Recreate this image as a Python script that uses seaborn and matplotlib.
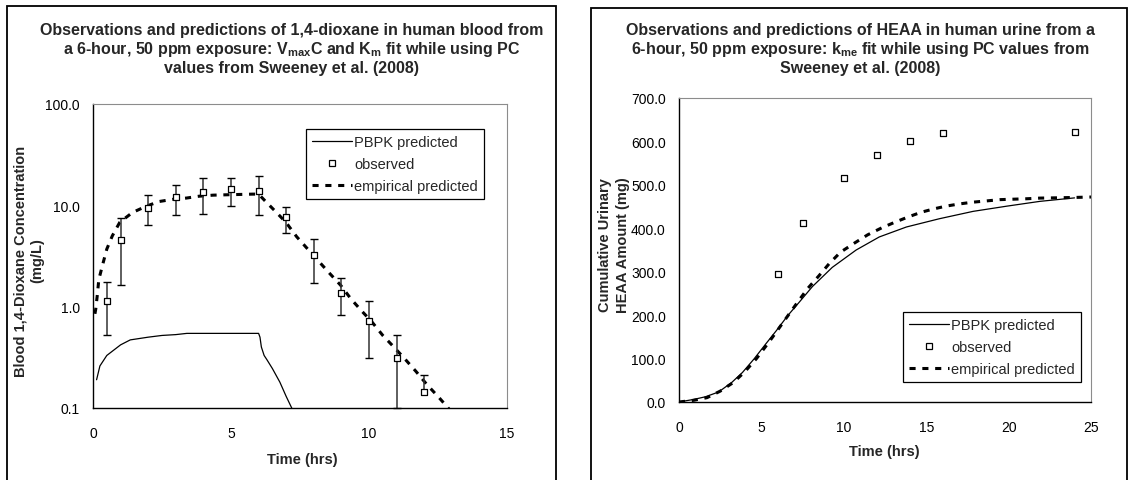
import matplotlib
matplotlib.use("Agg")
import matplotlib.pyplot as plt
import seaborn as sns
import pandas as pd
from matplotlib.patches import Rectangle
from matplotlib.lines import Line2D
from matplotlib.ticker import FixedLocator, FuncFormatter, NullLocator

# ---------------- data: left panel (1,4-dioxane in blood) ----------------
obs_t = [0.5, 1, 2, 3, 4, 5, 6, 7, 8, 9, 10, 11, 12]
obs_c = [1.13, 4.6, 9.5, 12.0, 13.6, 14.4, 14.0, 7.6, 3.2, 1.37, 0.73, 0.31, 0.143]
obs_hi = [1.74, 7.5, 12.6, 16.0, 18.7, 18.4, 19.3, 9.7, 4.7, 1.9, 1.14, 0.52, 0.21]
obs_lo = [0.52, 1.64, 6.4, 8.0, 8.2, 9.8, 8.0, 5.3, 1.71, 0.83, 0.31, 0.10, None]

pbpk_t = [0.13, 0.25, 0.5, 1.0, 1.35, 2.0, 2.5, 3.0, 3.4, 4.0, 5.0, 6.0, 6.05,
          6.1, 6.2, 6.3, 6.5, 6.77, 7.0, 7.2, 7.3]
pbpk_c = [0.19, 0.26, 0.33, 0.42, 0.47, 0.50, 0.52, 0.53, 0.545, 0.545, 0.545,
          0.545, 0.50, 0.40, 0.33, 0.30, 0.245, 0.18, 0.13, 0.10, 0.088]

emp_t = [0.07, 0.1, 0.16, 0.21, 0.35, 0.5, 0.7, 0.97, 1.43, 1.93, 2.39, 2.93,
         3.39, 3.84, 4.35, 4.8, 5.3, 5.78, 6.0, 6.23, 6.63, 6.99, 7.38, 7.78,
         8.16, 8.56, 8.97, 9.35, 9.73, 10.1, 10.5, 10.9, 11.3, 11.7, 12.1,
         12.5, 12.87, 13.0]
emp_c = [0.85, 0.95, 1.33, 1.85, 2.6, 3.7, 5.0, 6.8, 8.5, 9.8, 10.9, 11.5,
         11.8, 12.3, 12.6, 12.7, 12.8, 12.9, 12.9, 11.1, 8.6, 6.8, 4.9, 3.7,
         2.84, 2.15, 1.63, 1.19, 0.91, 0.71, 0.52, 0.40, 0.305, 0.23, 0.17,
         0.13, 0.10, 0.09]

# ---------------- data: right panel (HEAA in urine) ----------------
r_obs_t = [6, 7.5, 10, 12, 14, 16, 24]
r_obs_v = [295, 413, 515, 569, 602, 619, 622]

r_pbpk_t = [0, 0.9, 1.6, 2.4, 3.2, 3.85, 4.55, 5.25, 5.9, 6.6, 7.3, 8.1, 9.3,
            10.75, 12.15, 13.8, 15.8, 17.85, 19.9, 21.9, 24]
r_pbpk_v = [0, 6, 12, 23, 45, 68, 99, 133, 164, 199, 230, 266, 310, 350, 380,
            403, 422, 439, 451, 462, 470]

r_emp_t = [0, 0.9, 1.7, 2.5, 3.3, 4.0, 4.7, 5.4, 5.9, 6.5, 7.2, 7.8, 8.5, 9.1,
           9.8, 10.65, 11.45, 12.3, 13.1, 13.9, 14.7, 15.5, 16.2, 17.0, 17.8,
           18.65, 19.5, 20.3, 21.1, 21.9, 22.7, 24.0, 25.0]
r_emp_v = [0, 4, 10, 25, 45, 70, 100, 135, 161, 193, 230, 261, 291, 318, 345,
           366, 385, 401, 414, 426, 437, 445, 451, 456, 460, 463, 466, 467,
           468, 469.5, 470, 471, 472]

left_yticks = [0.1, 1, 10, 100]
left_xticks = [0, 5, 10, 15]
right_yticks = [0, 100, 200, 300, 400, 500, 600, 700]
right_xticks = [0, 5, 10, 15, 20, 25]

title_left = ("Observations and predictions of 1,4-dioxane in human blood from\n"
              r"a 6-hour, 50 ppm exposure: V$_{\mathbf{max}}$C and K$_{\mathbf{m}}$ fit while using PC" "\n"
              "values from Sweeney et al. (2008)")
title_right = ("Observations and predictions of HEAA in human urine from a\n"
               r"6-hour, 50 ppm exposure: k$_{\mathbf{me}}$ fit while using PC values from" "\n"
               "Sweeney et al. (2008)")
labels = ["PBPK predicted", "observed", "empirical predicted"]

# ---------------- style ----------------
sns.set_style("white")
plt.rcParams["font.family"] = ["Liberation Sans", "DejaVu Sans"]
plt.rcParams["mathtext.fontset"] = "custom"
plt.rcParams["mathtext.rm"] = "Liberation Sans"
plt.rcParams["mathtext.bf"] = "Liberation Sans:bold"
plt.rcParams["mathtext.it"] = "Liberation Sans:italic"

W, H = 1133, 481
fx = lambda px: px / W
fy = lambda py: 1 - py / H

fig = plt.figure(figsize=(W / 100, H / 100), dpi=100)
fig.patch.set_facecolor("white")

# chart-area frames
for x0, x1, y0 in [(7, 556, 7), (591, 1127, 9)]:
    fig.add_artist(Rectangle((fx(x0), -0.1), fx(x1) - fx(x0), fy(y0) + 0.1,
                             transform=fig.transFigure, fill=False,
                             edgecolor="black", lw=1.3))

axL = fig.add_axes([fx(93), fy(409), (507 - 93) / W, (409 - 105) / H])
axR = fig.add_axes([fx(679), fy(403), (1091 - 679) / W, (403 - 99) / H])

TICK_FS = 10
DASH = (0, (2.0, 2.2))

def style_axes(ax):
    for s in ["left", "bottom"]:
        ax.spines[s].set_color("black")
        ax.spines[s].set_linewidth(1.0)
    for s in ["top", "right"]:
        ax.spines[s].set_color("#8c8c8c")
        ax.spines[s].set_linewidth(0.8)
    ax.tick_params(axis="both", which="major", direction="out", length=3.5,
                   width=1.0, color="black", labelsize=TICK_FS, labelcolor="black")
    ax.tick_params(axis="x", pad=9.5)
    ax.tick_params(axis="y", pad=6)
    ax.grid(False)
    ax.set_facecolor("white")

# ---------------- left panel ----------------
sns.lineplot(x=pbpk_t, y=pbpk_c, ax=axL, color="black", lw=0.9,
             estimator=None, sort=False)
sns.lineplot(x=emp_t, y=emp_c, ax=axL, color="black", lw=2.2,
             linestyle=DASH, estimator=None, sort=False)
lo_vals = [lo if lo is not None else c for lo, c in zip(obs_lo, obs_c)]
axL.vlines(obs_t, lo_vals, obs_hi, color="#333333", lw=1.1, zorder=3)
axL.scatter(obs_t, obs_hi, marker="_", s=36, color="black", lw=1.0, zorder=3)
cap_t = [t for t, lo in zip(obs_t, obs_lo) if lo is not None]
cap_v = [lo for lo in obs_lo if lo is not None]
axL.scatter(cap_t, cap_v, marker="_", s=36, color="black", lw=1.0, zorder=3,
            clip_on=False)
sns.scatterplot(x=obs_t, y=obs_c, ax=axL, marker="s", s=22, facecolor="white",
                edgecolor="black", linewidth=0.9, zorder=4)

axL.set_yscale("log")
axL.set_ylim(0.1, 100)
axL.set_xlim(0, 15)
axL.yaxis.set_major_locator(FixedLocator(left_yticks))
axL.yaxis.set_minor_locator(NullLocator())
axL.yaxis.set_major_formatter(FuncFormatter(lambda v, p: f"{v:.1f}"))
axL.xaxis.set_major_locator(FixedLocator(left_xticks))
style_axes(axL)

axL.set_xlabel("Time (hrs)", fontsize=10.5, fontweight="bold")
axL.xaxis.set_label_coords((302 - 93) / 414, (409 - 460) / 304)
axL.xaxis.label.set_va("center")
axL.set_ylabel("Blood 1,4-Dioxane Concentration\n(mg/L)", fontsize=10.5,
               fontweight="bold", linespacing=1.3)
axL.yaxis.set_label_coords((29 - 93) / 414, (409 - 261) / 304)
axL.yaxis.label.set_va("center")

# ---------------- right panel ----------------
sns.lineplot(x=r_pbpk_t, y=r_pbpk_v, ax=axR, color="black", lw=0.9,
             estimator=None, sort=False)
sns.lineplot(x=r_emp_t, y=r_emp_v, ax=axR, color="black", lw=2.2,
             linestyle=DASH, estimator=None, sort=False)
sns.scatterplot(x=r_obs_t, y=r_obs_v, ax=axR, marker="s", s=22,
                facecolor="white", edgecolor="black", linewidth=0.9, zorder=4)
axR.set_xlim(0, 25)
axR.set_ylim(0, 700)
axR.xaxis.set_major_locator(FixedLocator(right_xticks))
axR.yaxis.set_major_locator(FixedLocator(right_yticks))
axR.yaxis.set_major_formatter(FuncFormatter(lambda v, p: f"{v:.1f}"))
style_axes(axR)

axR.set_xlabel("Time (hrs)", fontsize=10.5, fontweight="bold")
axR.xaxis.set_label_coords((884 - 679) / 412, (403 - 452) / 304)
axR.xaxis.label.set_va("center")
axR.set_ylabel("Cumulative Urinary\nHEAA Amount (mg)", fontsize=10.5,
               fontweight="bold", linespacing=1.3)
axR.yaxis.set_label_coords((614 - 679) / 412, (403 - 245) / 304)
axR.yaxis.label.set_va("center")

# ---------------- titles ----------------
fig.text(fx(292), fy(23), title_left, ha="center", va="top", fontsize=11.5,
         fontweight="bold", linespacing=1.15)
fig.text(fx(860), fy(23), title_right, ha="center", va="top", fontsize=11.5,
         fontweight="bold", linespacing=1.15)

# ---------------- legends ----------------
def handles():
    return [Line2D([], [], color="black", lw=0.9),
            Line2D([], [], ls="none", marker="s", mfc="white", mec="black",
                   ms=4.6, mew=0.9),
            Line2D([], [], color="black", lw=2.2, ls=DASH)]

for ax, (lx, ly) in [(axL, (306, 130)), (axR, (903, 313))]:
    leg = ax.legend(handles(), labels, loc="upper left",
                    bbox_to_anchor=(fx(lx), fy(ly)),
                    bbox_transform=fig.transFigure, borderaxespad=0,
                    fontsize=10.5, frameon=True, fancybox=False, shadow=False,
                    framealpha=1, edgecolor="black", handlelength=2.7,
                    handletextpad=0.2, borderpad=0.42, labelspacing=0.55)
    leg.get_frame().set_linewidth(0.9)

fig.savefig("out.png", dpi=100, facecolor="white")
